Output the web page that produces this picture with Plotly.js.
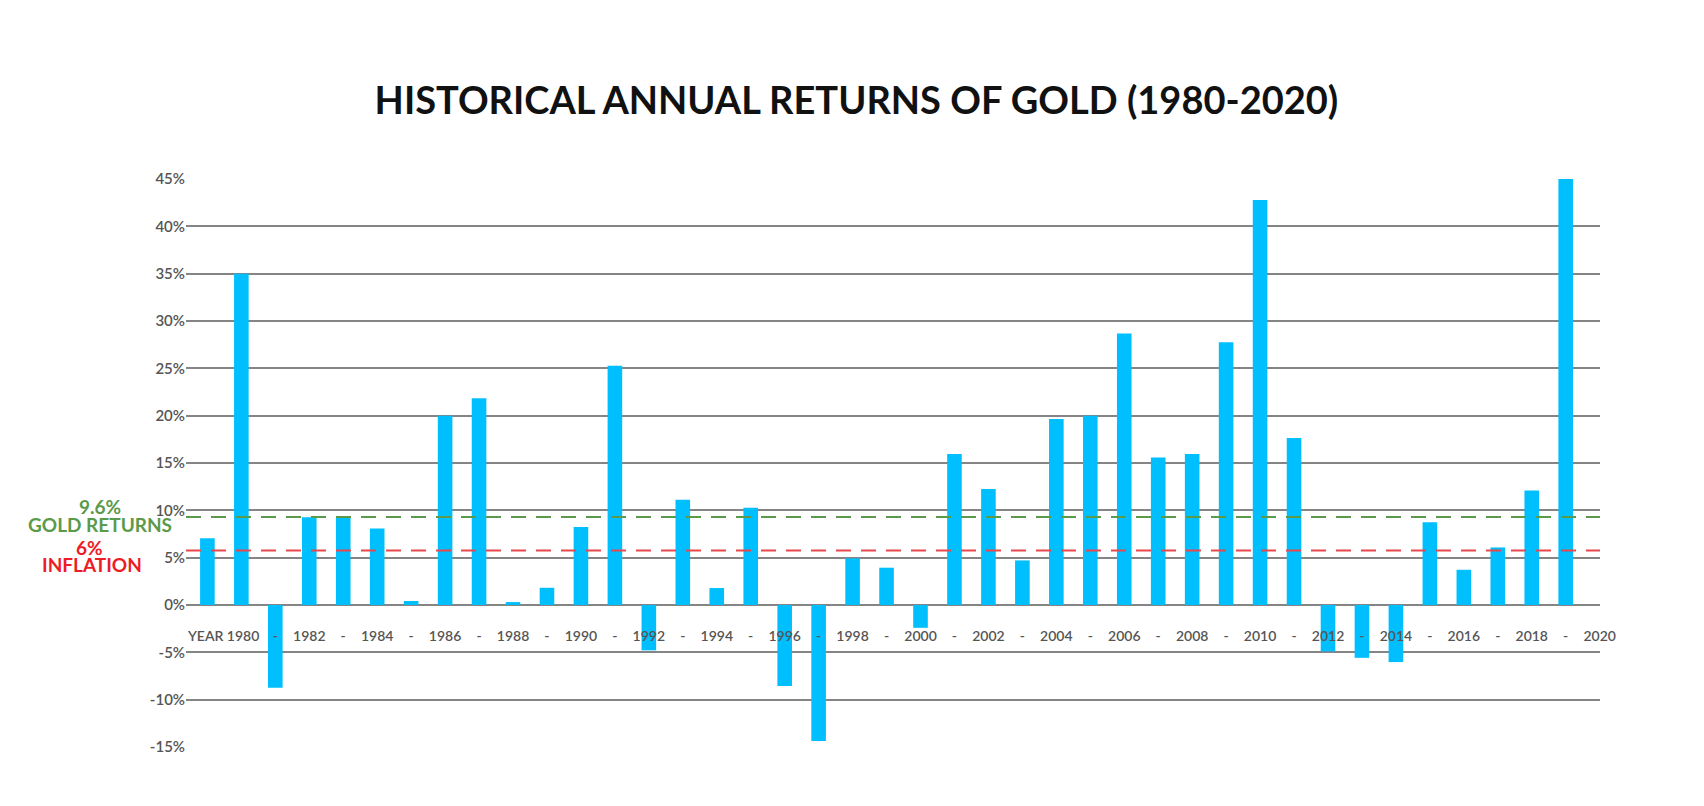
<!DOCTYPE html>
<html>
<head>
<meta charset="utf-8">
<script src="https://cdn.plot.ly/plotly-3.0.1.min.js"></script>
<style>
    html, body { margin: 0; padding: 0; background: #fff; }
    #chart { width: 1704px; height: 806px; }
</style>
</head>
<body>
<div id="chart"></div>
<script>
// подписи под столбцами (первая позиция - "YEAR", последняя - 2020 без столбца)
const xLabels = ['YEAR', '1980', '-', '1982', '-', '1984', '-', '1986', '-', '1988', '-',
    '1990', '-', '1992', '-', '1994', '-', '1996', '-', '1998', '-', '2000', '-',
    '2002', '-', '2004', '-', '2006', '-', '2008', '-', '2010', '-', '2012', '-',
    '2014', '-', '2016', '-', '2018', '-', '2020'];

// годовая доходность золота, %
const returns = [7.06, 35, -8.75, 9.27, 9.27, 8.08, 0.42, 20, 21.85, 0.31, 1.82,
    8.25, 25.27, -4.79, 11.12, 1.79, 10.28, -8.56, -14.37, 4.93, 3.94, -2.41,
    15.96, 12.26, 4.71, 19.64, 20, 28.67, 15.57, 15.96, 27.76, 42.77, 17.64,
    -4.9, -5.58, -6.03, 8.74, 3.72, 6.08, 12.09, 45];

const yTickVals = [-15, -10, -5, 0, 5, 10, 15, 20, 25, 30, 35, 40, 45];
const yTickText = ['-15%', '-10%', '-5%', '0%', '5%', '10%', '15%', '20%', '25%', '30%', '35%', '40%', '45%'];

// уровни пунктирных линий, как они нарисованы на картинке
const goldLevel = 9.3;
const inflationLevel = 5.75;
const goldText = ['9.6%', 'GOLD RETURNS'];
const inflationText = ['6%', 'INFLATION'];

const xIdx = returns.map((v, i) => i);
const tickIdx = xLabels.map((v, i) => i);

// небольшой зазор между "YEAR" и "1980", как на оригинале
const tickText = xLabels.slice();
tickText[0] = xLabels[0] + '\u00a0';
tickText[1] = '\u00a0' + xLabels[1];

const trace = {
    x: xIdx,
    y: returns,
    type: 'bar',
    width: 0.43,
    marker: { color: '#00bfff' },
    hoverinfo: 'skip'
};

const green = '#5b9a4a';
const red = '#ee1c25';
const labelFont = { family: 'Lato', size: 19, weight: 'bold' };

function sideLabel(text, level, shift, color, xs) {
    return {
        xref: 'paper', yref: 'y', x: 0, y: level,
        xanchor: 'center', yanchor: 'middle',
        xshift: xs, yshift: shift,
        text: text, showarrow: false,
        font: Object.assign({ color: color }, labelFont)
    };
}

const layout = {
    width: 1704,
    height: 806,
    margin: { l: 186, r: 104, t: 179, b: 59 },
    paper_bgcolor: '#fff',
    plot_bgcolor: '#fff',
    showlegend: false,
    title: {
        text: '<b>HISTORICAL ANNUAL RETURNS OF GOLD (1980-2020)</b>',
        font: { family: 'Lato', size: 38, color: '#111' },
        xref: 'container', x: 0.5026,
        yref: 'container', y: 0.875, yanchor: 'middle'
    },
    xaxis: {
        range: [-0.63, 41.01],
        anchor: 'free',
        position: 0.25,
        tickmode: 'array',
        tickvals: tickIdx,
        ticktext: tickText,
        tickangle: 0,
        ticks: 'outside',
        ticklen: 18,
        tickcolor: 'rgba(0,0,0,0)',
        showgrid: false,
        zeroline: false,
        showline: false,
        tickfont: { family: 'Lato', size: 14, color: '#555', weight: 600 }
    },
    yaxis: {
        range: [-15, 45],
        tickmode: 'array',
        tickvals: yTickVals,
        ticktext: yTickText,
        showgrid: true,
        gridcolor: '#858585',
        gridwidth: 2,
        zeroline: false,
        showline: false,
        ticks: '',
        tickfont: { family: 'Lato', size: 15, color: '#555', weight: 600 }
    },
    shapes: [
        {
            type: 'line', xref: 'paper', yref: 'y', x0: 0, x1: 1,
            y0: goldLevel, y1: goldLevel,
            line: { color: green, width: 2, dash: '15px,10px' }
        },
        {
            type: 'line', xref: 'paper', yref: 'y', x0: 0, x1: 1,
            y0: inflationLevel, y1: inflationLevel,
            line: { color: '#e8474c', width: 2, dash: '15px,10px' }
        }
    ],
    annotations: [
        sideLabel(goldText[0], goldLevel, 10, green, -86),
        sideLabel(goldText[1], goldLevel, -8, green, -86),
        sideLabel(inflationText[0], inflationLevel, 3, red, -97),
        sideLabel(inflationText[1], inflationLevel, -14, red, -94)
    ]
};

Plotly.newPlot('chart', [trace], layout, { displayModeBar: false, staticPlot: true });
</script>
</body>
</html>
